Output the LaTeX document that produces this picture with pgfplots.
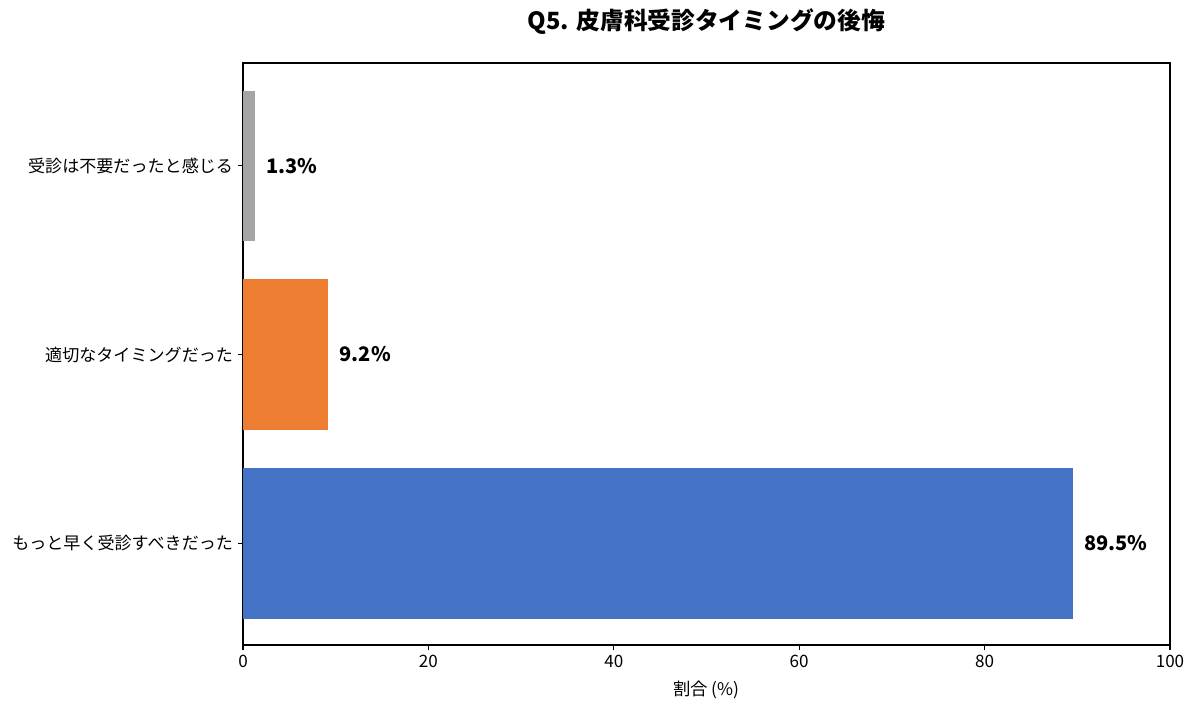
\documentclass[border=0pt]{standalone}
\usepackage{pgfplots}
\pgfplotsset{compat=1.18}
\usepackage{fontspec}
\setmainfont{Noto Sans CJK JP}
\definecolor{cblue}{HTML}{4472C4}
\definecolor{corange}{HTML}{ED7D31}
\definecolor{cgray}{HTML}{A5A5A5}
\begin{document}
\begin{tikzpicture}
\useasboundingbox (-182.25pt,-50.25pt) rectangle (717.75pt,483.75pt);
\begin{axis}[
  at={(0,0)}, anchor=south west,
  scale only axis,
  width=695.25pt, height=436.5pt,
  xbar, bar width=0.8, bar shift=0pt,
  xmin=0, xmax=100, ymin=-0.54, ymax=2.546,
  xtick={0,20,40,60,80,100},
  ytick={0,1,2},
  yticklabels={もっと早く受診すべきだった,適切なタイミングだった,受診は不要だったと感じる},
  tick align=outside, tick pos=left,
  major tick length=4pt,
  /pgf/number format/assume math mode=true,
  ticklabel style={font=\fontsize{12.8}{14}\selectfont},
  xlabel={割合 (\%)},
  xlabel style={font=\fontsize{13}{14}\selectfont, yshift=-3pt},
  title={\textbf{Q5. 皮膚科受診タイミングの後悔}},
  title style={font=\fontsize{17.8}{19}\selectfont, yshift=12pt},
  axis line style={black, line width=0.8pt},
  every tick/.style={black, line width=0.8pt},
  nodes near coords={\pgfmathprintnumber[fixed,fixed zerofill,precision=1]{\pgfplotspointmeta}\%},
  point meta=x,
  nodes near coords style={font=\fontsize{15}{16}\selectfont\bfseries, anchor=west, xshift=5pt, /pgf/number format/assume math mode=true},
]
\addplot[draw=none, fill=cblue] coordinates {(89.5,0)};
\addplot[draw=none, fill=corange] coordinates {(9.2,1)};
\addplot[draw=none, fill=cgray] coordinates {(1.3,2)};
\end{axis}
\end{tikzpicture}
\end{document}
